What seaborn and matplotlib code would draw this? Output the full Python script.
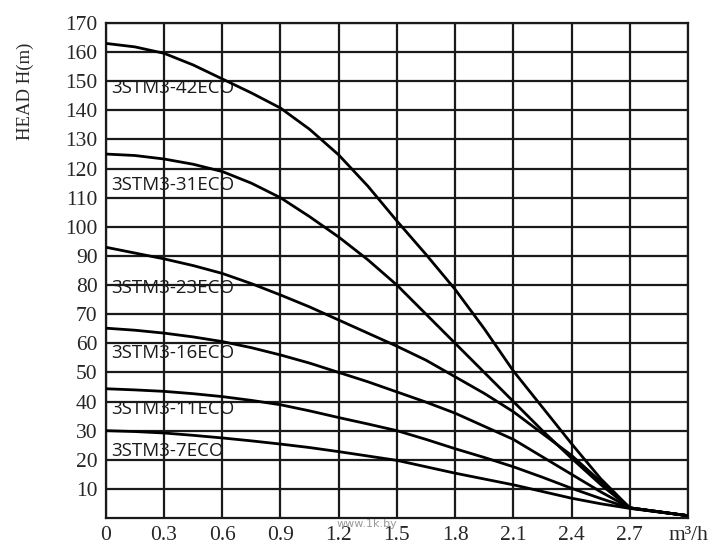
import pandas as pd
import matplotlib
matplotlib.use("Agg")
import matplotlib.pyplot as plt
import seaborn as sns

# flow points (m3/h) and head values
flow = [0, 0.15, 0.3, 0.45, 0.6, 0.75, 0.9, 1.05, 1.2, 1.35, 1.5,
        1.65, 1.8, 1.95, 2.1, 2.25, 2.4, 2.55, 2.7, 3.0]
head_42 = [163, 161.8, 159.6, 155.6, 150.8, 146, 140.8, 133.5, 124.7, 114, 102,
           90.5, 78.5, 65, 50.5, 38, 25.5, 13.5, 3.5, 0.8]
head_31 = [125, 124.5, 123.3, 121.5, 119, 115, 110, 103.5, 96.5, 88.7, 80,
           70, 60, 50, 40, 30, 20.5, 11.5, 3.5, 0.8]
head_23 = [93, 91, 89, 86.7, 84, 80.5, 76.6, 72.5, 68, 63.5, 59,
           54.2, 48.5, 42.8, 36.5, 29, 21.5, 12.5, 3.5, 0.8]
head_16 = [65.2, 64.5, 63.5, 62.2, 60.6, 58.5, 56, 53.2, 50, 46.8, 43.3,
           39.8, 36, 31.5, 27, 21, 15, 9, 3.5, 0.8]
head_11 = [44.4, 44, 43.5, 42.7, 41.7, 40.4, 38.9, 36.8, 34.5, 32.3, 30,
           27, 23.8, 20.8, 17.6, 14, 10.2, 6.7, 3.4, 0.8]
head_7 = [30, 29.7, 29.2, 28.4, 27.5, 26.5, 25.4, 24.2, 22.8, 21.3, 19.8,
          17.6, 15.4, 13.4, 11.4, 9.1, 6.8, 4.9, 3.3, 0.8]

models = ["3STM3-42ECO", "3STM3-31ECO", "3STM3-23ECO",
          "3STM3-16ECO", "3STM3-11ECO", "3STM3-7ECO"]
label_y = [147.8, 114.4, 79, 56.6, 37.3, 23.1]

x_ticks = [0, 0.3, 0.6, 0.9, 1.2, 1.5, 1.8, 2.1, 2.4, 2.7, 3.0]
x_labels = ["0", "0.3", "0.6", "0.9", "1.2", "1.5", "1.8", "2.1", "2.4", "2.7", "m³/h"]
y_ticks = list(range(10, 171, 10))

heads = [head_42, head_31, head_23, head_16, head_11, head_7]
df = pd.concat([pd.DataFrame({"flow": flow, "head": h, "model": m})
                for h, m in zip(heads, models)])

sns.set_style("white")
fig = plt.figure(figsize=(7.2, 5.56), dpi=100)
ax = fig.add_axes([0.147, 0.0683, 0.8086, 0.8903])

sns.lineplot(data=df, x="flow", y="head", hue="model", palette=["black"] * 6,
             linewidth=2, legend=False, ax=ax, zorder=3, sort=False)

for m, ly in zip(models, label_y):
    ax.text(0.03, ly, m, fontsize=13.5, family="Open Sans", color="#1a1a1a",
            va="center", ha="left", zorder=1)

ax.set_xlim(0, 3.0)
ax.set_ylim(0, 170)
ax.set_xticks(x_ticks)
ax.set_xticklabels(x_labels, family="Liberation Serif", fontsize=15.5)
ax.set_yticks(y_ticks)
ax.set_yticklabels([str(v) for v in y_ticks], family="Liberation Serif", fontsize=15.5)
ax.tick_params(length=0, pad=6)
ax.set_axisbelow(False)
ax.grid(True, color="#1a1a1a", linewidth=1.6)
for s in ax.spines.values():
    s.set_color("#1a1a1a")
    s.set_linewidth(1.6)
ax.set_xlabel("")
ax.set_ylabel("")

fig.text(0.035, 0.835, "HEAD H(m)", rotation=90, family="Liberation Serif",
         fontsize=13.5, ha="center", va="center")
fig.text(0.51, 0.057, "www.1k.by", fontsize=8, color="#9a9a9a",
         ha="center", va="center")

fig.savefig("out.png", dpi=100)
